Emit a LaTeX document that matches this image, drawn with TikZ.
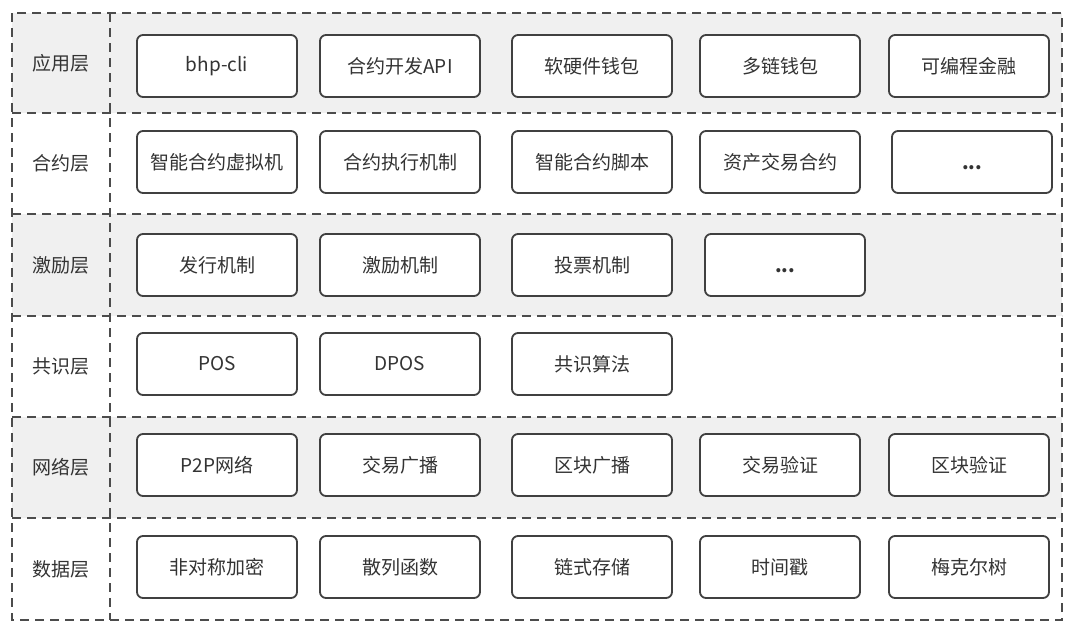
\documentclass[tikz,border=0pt]{standalone}
\usepackage{fontspec}
\setmainfont{Noto Sans CJK SC}
\begin{document}
\begin{tikzpicture}[x=1pt,y=-1pt,
  item/.style={draw=black!75, line width=1.8pt, rounded corners=6pt, fill=white,
    minimum width=160pt, minimum height=62pt, inner sep=0pt, text=black!80,
    font=\fontsize{19pt}{22pt}\selectfont},
  lab/.style={text=black!80, font=\fontsize{19pt}{22pt}\selectfont},
  dline/.style={draw=black!70, line width=1.6pt, dash pattern=on 9pt off 6pt}]
\useasboundingbox (0,0) rectangle (1080,635);
\fill[white] (0,0) rectangle (1080,635);
% row backgrounds
\foreach \t/\b in {13/113, 214/316, 417/518}{
  \fill[black!6] (12,\t) rectangle (1062,\b);
}
% row dividers
\foreach \y in {113,214,316,417,518}{
  \draw[dline] (12,\y) -- (1062,\y);
}
\draw[dline] (12,13) rectangle (1062,620);
\draw[dline] (110,13) -- (110,620);
% layer labels
\node[lab] (l1) at (61,63) {应用层};
\node[lab] (l2) at (61,163) {合约层};
\node[lab] (l3) at (61,265) {激励层};
\node[lab] (l4) at (61,366) {共识层};
\node[lab] (l5) at (61,467) {网络层};
\node[lab] (l6) at (61,569) {数据层};
% row 1
\node[item] (a1) at (217,66) {bhp-cli};
\node[item] (a2) at (400,66) {合约开发API};
\node[item] (a3) at (592,66) {软硬件钱包};
\node[item] (a4) at (780,66) {多链钱包};
\node[item] (a5) at (969,66) {可编程金融};
% row 2
\node[item] (b1) at (217,162) {智能合约虚拟机};
\node[item] (b2) at (400,162) {合约执行机制};
\node[item] (b3) at (592,162) {智能合约脚本};
\node[item] (b4) at (780,162) {资产交易合约};
\node[item] (b5) at (972,162) {\vphantom{合}\textbf{...}};
% row 3
\node[item] (c1) at (217,265) {发行机制};
\node[item] (c2) at (400,265) {激励机制};
\node[item] (c3) at (592,265) {投票机制};
\node[item] (c4) at (785,265) {\vphantom{合}\textbf{...}};
% row 4
\node[item] (d1) at (217,364) {POS};
\node[item] (d2) at (400,364) {DPOS};
\node[item] (d3) at (592,364) {共识算法};
% row 5
\node[item] (e1) at (217,465) {P2P网络};
\node[item] (e2) at (400,465) {交易广播};
\node[item] (e3) at (592,465) {区块广播};
\node[item] (e4) at (780,465) {交易验证};
\node[item] (e5) at (969,465) {区块验证};
% row 6
\node[item] (f1) at (217,567) {非对称加密};
\node[item] (f2) at (400,567) {散列函数};
\node[item] (f3) at (592,567) {链式存储};
\node[item] (f4) at (780,567) {时间戳};
\node[item] (f5) at (969,567) {梅克尔树};
\end{tikzpicture}
\end{document}
